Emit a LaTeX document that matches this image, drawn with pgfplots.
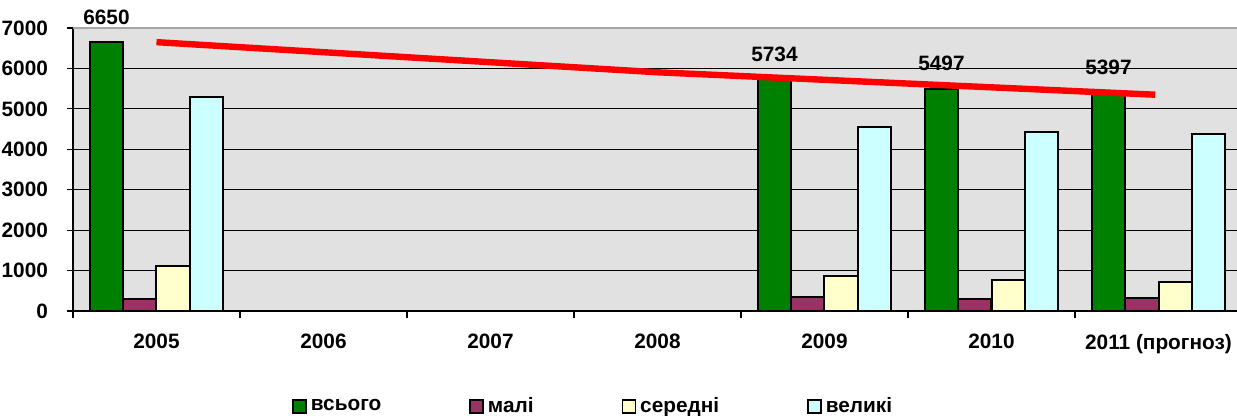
\documentclass[border=0pt]{standalone}
\usepackage{fontspec}
\setmainfont{Liberation Sans}
\usepackage{pgfplots}
\pgfplotsset{compat=1.18}
\definecolor{cgreen}{HTML}{008000}
\definecolor{cpurple}{HTML}{993366}
\definecolor{cyellow}{HTML}{FFFFCC}
\definecolor{ccyan}{HTML}{CCFFFF}
\definecolor{cbg}{HTML}{E1E1E1}
\newcommand{\lbl}{\fontsize{10.4}{12}\selectfont\bfseries}
\pgfplotsset{
  /pgf/number format/1000 sep={},
  mybar/.style={ybar, bar width=0.2, draw=black, line width=1pt,
    legend image code/.code={\draw[##1,draw=black,line width=0.8pt] (0pt,-3.25pt) rectangle (6.5pt,3.25pt);}},
}

\begin{document}
\begin{tikzpicture}
\begin{axis}[name=ax, at={(0,0)}, anchor=south west,
  scale only axis, width=584.5pt, height=141.5pt,
  xmin=-0.5, xmax=6.5, ymin=0, ymax=7000,
  axis lines*=left, clip=false,
  axis line style={black, line width=0.8pt},
  axis background/.style={fill=cbg},
  tick align=outside, tick style={black, line width=0.6pt},
  major tick length=3pt, minor tick length=3.5pt,
  xtick={0,...,6},
  xticklabels={2005,2006,2007,2008,2009,2010,2011 (прогноз)},
  major x tick style={draw=none},
  minor xtick={-0.5,0.5,...,6.5},
  ytick={0,1000,...,7000}, scaled y ticks=false,
  ymajorgrids, grid style={black, line width=0.5pt},
  /pgf/number format/assume math mode=true,
  tick label style={font=\lbl},
  xticklabel style={yshift=-5pt},
  yticklabel style={xshift=-6pt},
  legend style={at={(0.1873,-0.338)}, anchor=west, draw=none, fill=none,
    inner sep=0pt, legend columns=4, font=\lbl,
    /tikz/every even column/.append style={column sep=42pt}},
]
\addplot[mybar, fill=cgreen, bar shift=-0.3, nodes near coords,
  every node near coord/.append style={font=\lbl, text=black, anchor=center,
    xshift=-25pt, yshift=12.5pt}]
  coordinates {(0,6650) (4,5734) (5,5497) (6,5397)};
\addlegendentry{всього}
\addplot[mybar, fill=cpurple, bar shift=-0.1]
  coordinates {(0,300) (4,340) (5,300) (6,320)};
\addlegendentry{малі}
\addplot[mybar, fill=cyellow, bar shift=0.1]
  coordinates {(0,1110) (4,860) (5,770) (6,720)};
\addlegendentry{середні}
\addplot[mybar, fill=ccyan, bar shift=0.3]
  coordinates {(0,5300) (4,4550) (5,4430) (6,4370)};
\addlegendentry{великі}
% trend line drawn over the bars
\addplot[red, line width=3.2pt, forget plot] coordinates {(0,6650) (3,5905) (5.98,5350)};
\draw[gray!70, line width=1pt] (rel axis cs:0,1) -- (rel axis cs:1,1);
\end{axis}
\pgfresetboundingbox
\path (-36.5pt,-52.5pt) rectangle (582pt,155.5pt);
\end{tikzpicture}
\end{document}
